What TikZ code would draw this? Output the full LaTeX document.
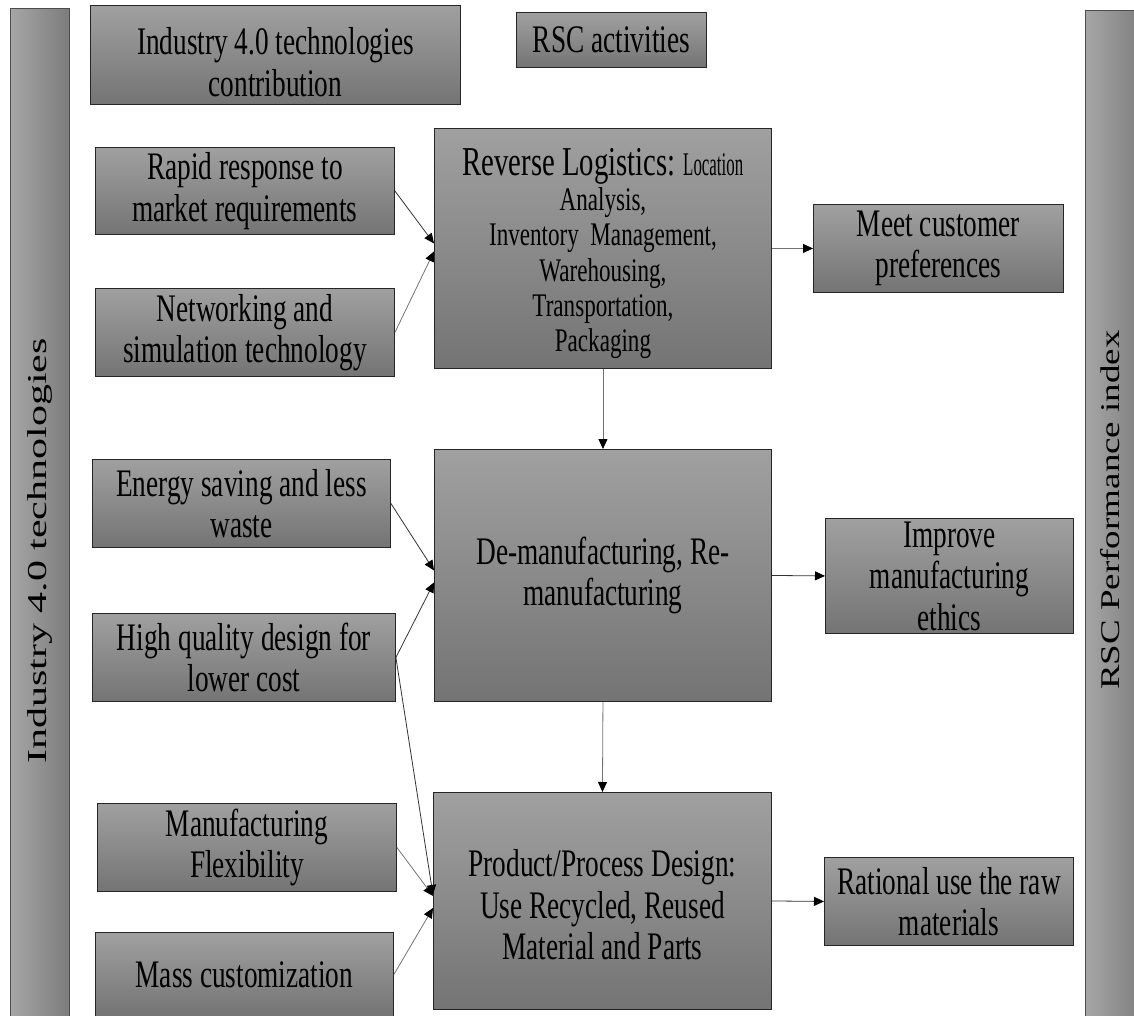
\documentclass[tikz,border=0pt]{standalone}
\usepackage{graphicx}
\usepackage{fontspec}
\setmainfont{Liberation Serif}[FakeStretch=0.70]
\newfontfamily\rotfont{Liberation Serif}
\usetikzlibrary{arrows.meta}
\definecolor{boxtop}{HTML}{A0A0A0}
\definecolor{boxbot}{HTML}{747474}
\definecolor{barlight}{HTML}{A6A6A6}
\definecolor{bardark}{HTML}{7C7C7C}
\tikzset{
  box/.style={draw=black!85, line width=0.9pt, top color=boxtop, bottom color=boxbot,
    inner sep=0pt, align=center, anchor=north west, font=\fontsize{39}{41.5}\selectfont},
  boxtext/.style={inner sep=0pt, align=center, font=\fontsize{39}{41.5}\selectfont},
  bar/.style={draw=black!70, line width=0.9pt, left color=barlight, right color=bardark,
    inner sep=0pt, anchor=north west},
  conn/.style={draw=black!80, line width=0.8pt, -{Triangle[length=10pt,width=9pt,color=black,fill=black]}},
  grayconn/.style={conn, draw=black!55},
  sidelabel/.style={rotate=90, inner sep=0pt},
}
\begin{document}
\begin{tikzpicture}[x=1pt,y=-1pt]
\useasboundingbox (0,0) rectangle (1134,1016);
% side bars
\node[bar, minimum width=59pt, minimum height=1014pt] (lbar) at (10,8) {};
\node[bar, minimum width=60pt, minimum height=1012pt] (rbar) at (1085,10) {};
\node[sidelabel, font=\rotfont\fontsize{42}{42}\selectfont] (ltxt) at (40,551) {\scalebox{1}[0.65]{Industry 4.0 technologies}};
\node[sidelabel, font=\rotfont\fontsize{37}{37}\selectfont] (rtxt) at (1110,510) {\scalebox{1}[0.73]{RSC Performance index}};
% header boxes
\node[box, minimum width=370pt, minimum height=99pt] (hdr) at (90,5) {};
\node[boxtext] (hdrtext) at ([yshift=-7pt]hdr.center) {Industry 4.0 technologies\\contribution};
\node[box, minimum width=190pt, minimum height=55pt] (rsc) at (516,12) {RSC activities};
% left column
\node[box, minimum width=299pt, minimum height=87pt] (rapid) at (95,147) {Rapid response to\\market requirements};
\node[box, minimum width=299pt, minimum height=88pt] (netw) at (95,288) {Networking and\\simulation technology};
\node[box, minimum width=298pt, minimum height=88pt] (energy) at (92,459) {Energy saving and less\\waste};
\node[box, minimum width=303pt, minimum height=88pt] (hq) at (92,613) {High quality design for\\lower cost};
\node[box, minimum width=299pt, minimum height=88pt] (mf) at (97,803) {Manufacturing\\Flexibility};
\node[box, minimum width=298pt, minimum height=84pt] (mc) at (95,932) {Mass customization};
% middle column
\node[box, minimum width=337pt, minimum height=240pt] (rl) at (434,128) {};
\node[boxtext, font=\fontsize{33}{35.2}\selectfont] (rltext) at ([yshift=-5pt]rl.center)
  {{\fontsize{41}{35.2}\selectfont Reverse Logistics:} \scalebox{0.73}[1]{Location}\\Analysis,\\Inventory\ \ Management,\\Warehousing,\\Transportation,\\Packaging};
\node[box, minimum width=337pt, minimum height=252pt] (dm) at (434,449) {De-manufacturing, Re-\\manufacturing};
\node[box, minimum width=338pt, minimum height=217pt] (pd) at (433,792) {};
\node[boxtext] (pdtext) at ([yshift=-4pt]pd.center) {Product/Process Design:\\Use Recycled, Reused\\Material and Parts};
% right column
\node[box, minimum width=250pt, minimum height=88pt] (mcp) at (813,204) {Meet customer\\preferences};
\node[box, minimum width=248pt, minimum height=115pt] (ime) at (825,518) {Improve\\manufacturing\\ethics};
\node[box, minimum width=249pt, minimum height=88pt] (rat) at (824,857) {Rational use the raw\\materials};
% connectors
\draw[conn] (rapid.east) -- ([yshift=5pt]rl.west);
\draw[grayconn] (netw.east) -- ([yshift=-3pt]rl.west);
\draw[conn] (energy.east) -- ([yshift=5pt]dm.west);
\draw[conn] (hq.east) -- ([yshift=-7pt]dm.west);
\draw[conn] (hq.east) -- ([yshift=6pt]pd.west);
\draw[grayconn] (mf.east) -- ([yshift=5pt]pd.west);
\draw[grayconn] (mc.east) -- ([yshift=-7pt]pd.west);
\draw[grayconn] (rl.east) -- (mcp.west);
\draw[conn] (dm.east) -- (ime.west);
\draw[conn] (pd.east) -- (rat.west);
\draw[grayconn] (rl.south) -- (dm.north);
\draw[grayconn] (dm.south) -- (pd.north);
\end{tikzpicture}
\end{document}
